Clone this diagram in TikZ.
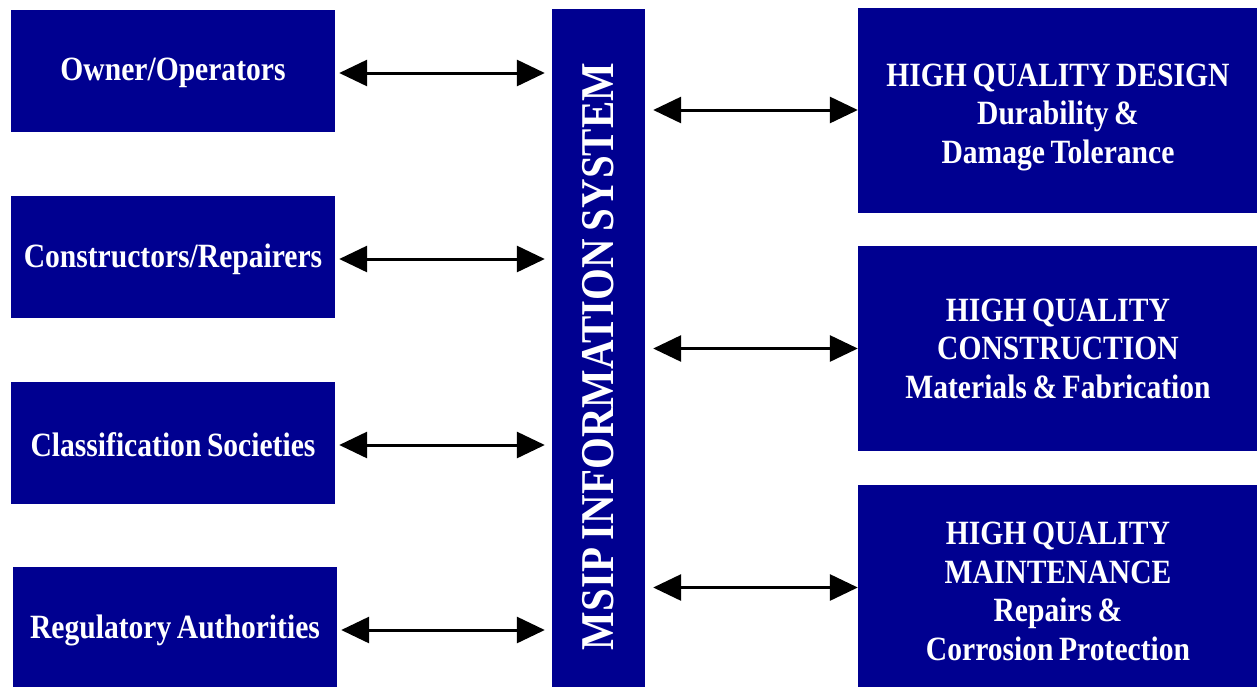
\documentclass[tikz,border=0pt]{standalone}
\usepackage{fontspec}
\setmainfont{Liberation Serif}[FakeStretch=0.87,WordSpace=0.75]
\usetikzlibrary{arrows.meta}
\definecolor{msipblue}{RGB}{0,0,144}

\begin{document}
\begin{tikzpicture}[x=1pt,y=-1pt,
    box/.style={fill=msipblue,inner sep=0pt},
    boxtext/.style={text=white,inner sep=0pt,align=center,yshift=-4pt,
      font=\fontsize{34}{38.5}\selectfont\bfseries},
    party/.style={box,minimum width=324pt,minimum height=122pt},
    goal/.style={box,minimum width=400pt,minimum height=205pt},
    link/.style={line width=3pt,
      {Triangle[length=28pt,width=26pt]}-{Triangle[length=28pt,width=26pt]}}]
    \useasboundingbox (0,0) rectangle (1257,686);
            % left column
            \node[party] (owner) at (173,71) {};
            \node[party] (builder) at (173,257) {};
            \node[party] (class) at (173,443) {};
            \node[party] (regul) at (175,628) {};
            \node[boxtext,yshift=2pt] at (owner.center) {Owner/Operators};
            \node[boxtext,yshift=2pt] at (builder.center) {Constructors/Repairers};
            \node[boxtext,yshift=2pt] at (class.center) {Classification Societies};
            \node[boxtext,yshift=2pt] at (regul.center) {Regulatory Authorities};
            % centre
            \node[box,minimum width=93pt,minimum height=681pt] (msip) at (598.5,349.5) {};
            \node[text=white,rotate=90,font=\fontsize{47}{50}\selectfont\bfseries]
                (msiptext) at ([yshift=-7pt]msip.center) {MSIP INFORMATION SYSTEM};
            % right column
            \node[goal] (design) at (1058,110) {};
            \node[goal] (constr) at (1058,348.5) {};
            \node[goal] (maint) at (1058,587.5) {};
            \node[boxtext,yshift=-3pt] at (design.center) {HIGH QUALITY DESIGN\\Durability \&\\Damage Tolerance};
            \node[boxtext,yshift=4pt] at (constr.center) {HIGH QUALITY\\CONSTRUCTION\\Materials \& Fabrication};
            \node[boxtext] at (maint.center) {HIGH QUALITY\\MAINTENANCE\\Repairs \&\\Corrosion Protection};
            % arrows
            \foreach \n in {owner,builder,class,regul}
                \draw[link,shorten <=4pt,shorten >=7pt] ([yshift=-2pt]\n.east) -- ([yshift=-2pt]\n.east -| msip.west);
            \foreach \n in {design,constr,maint}
                \draw[link,shorten <=8pt] (\n.west -| msip.east) -- (\n.west);
\end{tikzpicture}
\end{document}
